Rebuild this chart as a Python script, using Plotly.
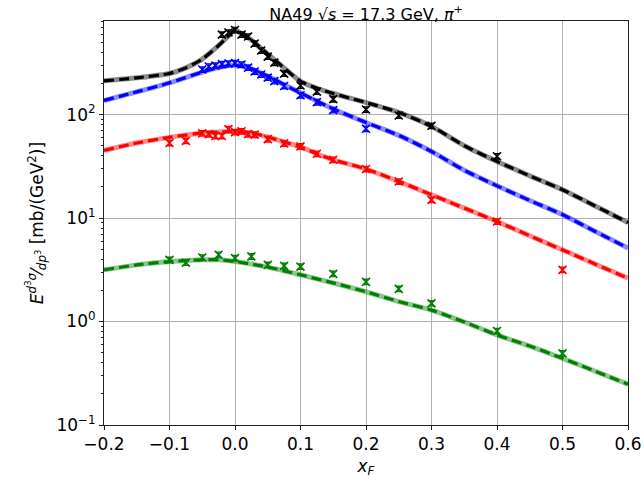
import plotly.graph_objects as go

# ---------------- data ----------------
# model curves
black_cx = [-0.2, -0.15, -0.1, -0.075, -0.05, -0.025, -0.0125, 0, 0.0125, 0.025, 0.05, 0.075,
            0.1, 0.125, 0.15, 0.175, 0.2, 0.25, 0.3, 0.35, 0.4, 0.45, 0.5, 0.55, 0.6]
black_cy = [212, 227, 250, 283, 344, 466, 556, 650, 594, 526, 385, 282,
            210, 180, 160, 144.5, 131, 105, 77, 50.1, 35.3, 25.6, 18.8, 13.1, 9.06]

blue_cx = [-0.2, -0.15, -0.1, -0.05, -0.025, 0, 0.025, 0.05, 0.075, 0.1, 0.15, 0.2, 0.25,
           0.3, 0.35, 0.4, 0.45, 0.5, 0.55, 0.6]
blue_cy = [137, 166, 203, 258, 285, 300, 277, 235, 195, 162, 113.5, 84, 63,
           44, 29, 20.5, 14.8, 10.8, 7.42, 5.13]

red_cx = [-0.2, -0.15, -0.1, -0.05, -0.025, 0, 0.025, 0.05, 0.075, 0.1, 0.125, 0.15, 0.2,
          0.25, 0.3, 0.35, 0.4, 0.45, 0.5, 0.55, 0.6]
red_cy = [45.1, 53.2, 60.3, 66.5, 68, 68.5, 66.5, 60.8, 54.4, 48.7, 41.9, 36.6, 29.8,
          22.6, 16.8, 12.5, 9.27, 6.74, 4.93, 3.59, 2.62]

green_cx = [-0.2, -0.15, -0.1, -0.05, -0.025, 0, 0.05, 0.1, 0.15, 0.2, 0.25, 0.3, 0.35,
            0.4, 0.45, 0.5, 0.55, 0.6]
green_cy = [3.16, 3.53, 3.8, 3.95, 3.95, 3.8, 3.36, 2.83, 2.36, 1.94, 1.56, 1.29, 0.99,
            0.741, 0.58, 0.441, 0.331, 0.248]

# NA49 data points
black_dx = [-0.02, -0.01, 0, 0.01, 0.02, 0.03, 0.04, 0.05, 0.06, 0.075, 0.1, 0.125, 0.15,
            0.2, 0.25, 0.3, 0.4]
black_dy = [594, 622, 657, 594, 569, 486, 417, 364, 318, 249, 191, 167, 141,
            112, 98, 78, 39.6]

blue_dx = [-0.05, -0.04, -0.03, -0.02, -0.01, 0, 0.01, 0.02, 0.03, 0.04, 0.05, 0.06, 0.075,
           0.1, 0.125, 0.15, 0.2]
blue_dy = [273, 292, 298, 308, 312, 315, 305, 285, 261, 244, 228, 211, 189,
           154, 132, 110.6, 73]

red_dx = [-0.1, -0.075, -0.05, -0.04, -0.03, -0.02, -0.01, 0, 0.01, 0.02, 0.03, 0.05, 0.075,
          0.1, 0.125, 0.15, 0.2, 0.25, 0.3, 0.4, 0.5]
red_dy = [53.2, 55.8, 65.9, 64.7, 62.2, 62.2, 72.4, 67.8, 69, 64.7, 64, 57.9, 52.7,
          49.3, 41.9, 36.6, 29.8, 22.6, 15, 9.27, 3.16]

green_dx = [-0.1, -0.075, -0.05, -0.025, 0, 0.025, 0.05, 0.075, 0.1, 0.15, 0.2, 0.25, 0.3,
            0.4, 0.5]
green_dy = [3.95, 3.71, 4.16, 4.42, 4.1, 4.26, 3.53, 3.45, 3.4, 2.89, 2.42, 2.07, 1.5,
            0.81, 0.493]

x_ticks = [-0.2, -0.1, 0.0, 0.1, 0.2, 0.3, 0.4, 0.5, 0.6]
x_tick_labels = ["\u22120.2", "\u22120.1", "0.0", "0.1", "0.2", "0.3", "0.4", "0.5", "0.6"]
y_ticks = [0.1, 1, 10, 100]
y_tick_labels = ["10<sup>\u22121</sup>", "10<sup>0</sup>", "10<sup>1</sup>", "10<sup>2</sup>"]
y_minor = [m * 10 ** e for e in (-1, 0, 1, 2) for m in range(2, 10)]

series = [
    (black_cx, black_cy, black_dx, black_dy, "#000000", "rgba(0,0,0,0.45)"),
    (blue_cx, blue_cy, blue_dx, blue_dy, "#0000ff", "rgba(0,0,255,0.45)"),
    (red_cx, red_cy, red_dx, red_dy, "#ff0000", "rgba(255,0,0,0.45)"),
    (green_cx, green_cy, green_dx, green_dy, "#008000", "rgba(0,128,0,0.45)"),
]

fig = go.Figure()
for cx, cy, dx, dy, col, band in series:
    fig.add_trace(go.Scatter(x=cx, y=cy, mode="lines", line=dict(color=band, width=5, shape="spline", smoothing=0.7),
                             showlegend=False, hoverinfo="skip"))
    fig.add_trace(go.Scatter(x=cx, y=cy, mode="lines",
                             line=dict(color=col, width=3.2, dash="10px,5px", shape="spline", smoothing=0.7),
                             showlegend=False))
for cx, cy, dx, dy, col, band in series:
    fig.add_trace(go.Scatter(x=dx, y=dy, mode="markers",
                             marker=dict(symbol="x-thin", size=8, line=dict(color=col, width=1.6), color=col),
                             error_y=dict(type="percent", value=6, color=col, thickness=1.4, width=3),
                             showlegend=False))

axis_common = dict(showline=True, linecolor="#222", linewidth=1.1, mirror=True, automargin=False,
                   ticks="outside", ticklen=4, tickwidth=1, tickcolor="#222",
                   showgrid=True, gridcolor="#b0b0b0", gridwidth=0.8, zeroline=False,
                   tickfont=dict(family="DejaVu Sans", size=17, color="#000"))

fig.update_layout(
    width=644, height=487,
    margin=dict(l=104, r=16, t=21, b=62),
    paper_bgcolor="white", plot_bgcolor="white",
    title=dict(text="NA49 \u221a<i>s</i> = 17.3 GeV, <i>\u03c0</i><sup>+</sup>",
               x=0.5685, xanchor="center", y=0.982, yanchor="top",
               font=dict(family="DejaVu Sans", size=16, color="#000")),
    xaxis=dict(range=[-0.2, 0.6], tickvals=x_ticks, ticktext=x_tick_labels,
               title=dict(text="<i>x</i><sub><i>F</i></sub>", font=dict(family="DejaVu Sans", size=17, color="#000"),
                          standoff=6),
               **axis_common),
    yaxis=dict(type="log", range=[-1, 2.905], tickvals=y_ticks, ticktext=y_tick_labels,
               minor=dict(tickvals=y_minor, ticks="outside", ticklen=2, tickcolor="#222", showgrid=False),
               title=dict(text="<i>E</i><sup><i>d</i><sup>3</sup><i>\u03c3</i></sup>\u2044<sub><i>dp</i><sup>3</sup></sub> [mb/(GeV<sup>2</sup>)]",
                          font=dict(family="DejaVu Sans", size=17, color="#000"), standoff=8),
               **axis_common),
)

fig.write_html("out.html")
